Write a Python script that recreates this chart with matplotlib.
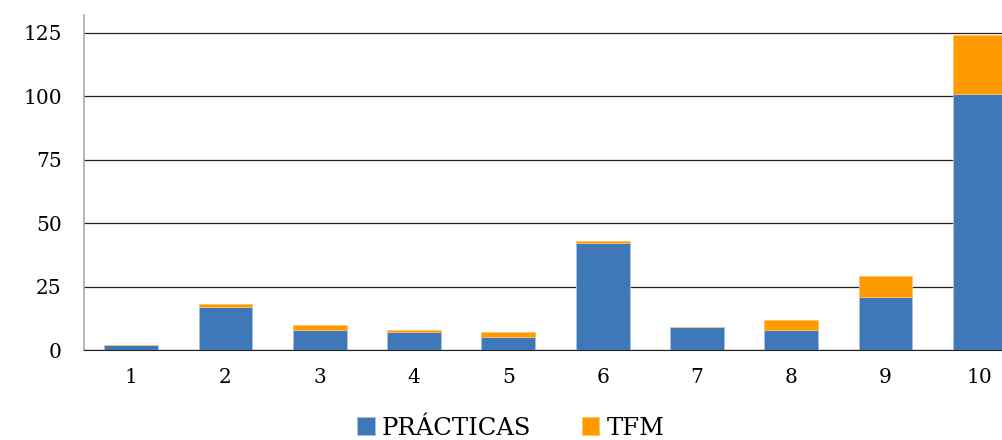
import matplotlib.pyplot as plt

categories = ["1", "2", "3", "4", "5", "6", "7", "8", "9", "10"]
practicas = [2, 17, 8, 7, 5, 42, 9, 8, 21, 101]
tfm = [0, 1, 2, 1, 2, 1, 0, 4, 8, 23]

blue = "#3f78b8"
orange = "#ff9900"

plt.rcParams["font.family"] = ["DejaVu Serif"]

fig = plt.figure(figsize=(10.02, 4.4), dpi=100)
# axes run past the right edge, as in the reference
ax = fig.add_axes([84 / 1002, 90 / 440, 943 / 1002, 335 / 440])

x = range(1, len(categories) + 1)
ax.bar(x, practicas, width=0.57, color=blue, edgecolor="#a9c1e0", linewidth=0.6,
       label="PRÁCTICAS", zorder=3)
ax.bar(x, tfm, width=0.57, bottom=practicas, color=orange, edgecolor="#ffc266",
       linewidth=0.6, label="TFM", zorder=3)

ax.set_xlim(0.5, len(categories) + 0.5)
ax.set_ylim(0, 132)
ax.set_yticks([0, 25, 50, 75, 100, 125])
ax.set_xticks(list(x))
ax.set_xticklabels(categories)
ax.yaxis.grid(True, color="#222222", linewidth=0.9, zorder=0)

for s in ["top", "right"]:
    ax.spines[s].set_visible(False)
ax.spines["left"].set_color("#aaaaaa")
ax.spines["left"].set_linewidth(1.2)
ax.spines["bottom"].set_color("#222222")
ax.tick_params(axis="both", length=0, labelsize=14.5)
ax.tick_params(axis="x", pad=13)
ax.tick_params(axis="y", pad=16)

fig.legend(loc="center", bbox_to_anchor=(511 / 1002, 12 / 440), ncol=2,
           frameon=False, fontsize=17.5, handlelength=0.7, handleheight=0.7,
           handletextpad=0.3, columnspacing=2.1)

plt.savefig("out.png")
